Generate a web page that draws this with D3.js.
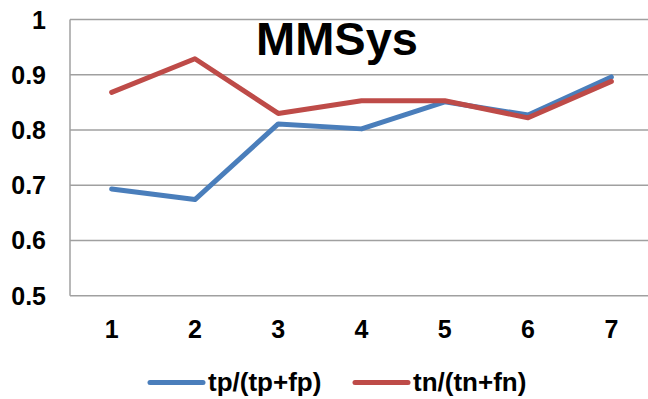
<!DOCTYPE html>
<html><head><meta charset="utf-8">
<script src="https://cdn.jsdelivr.net/npm/d3@7"></script>
<style>body{margin:0;background:#fff}svg{display:block}</style>
</head><body>
<script>
const categories = ["1","2","3","4","5","6","7"];
const seriesNames = ["tp/(tp+fp)", "tn/(tn+fn)"];
const tpValues = [0.693, 0.674, 0.811, 0.802, 0.851, 0.827, 0.896];
const tnValues = [0.868, 0.929, 0.830, 0.853, 0.853, 0.822, 0.888];
const yTicks = [0.5, 0.6, 0.7, 0.8, 0.9, 1];
const colors = ["#4a7ebb", "#be4b48"];
const title = "MMSys";

const W = 648, H = 399;
const svg = d3.select("body").append("svg").attr("width", W).attr("height", H);
const font = "'Liberation Sans', Arial, sans-serif";

const x = d3.scaleBand().domain(categories).range([70, 653]);
const y = d3.scaleLinear().domain([0.5, 1]).range([295.7, 19.5]);

// gridlines
svg.append("g").selectAll("line").data(yTicks).join("line")
  .attr("x1", 70).attr("x2", W).attr("y1", d => y(d)).attr("y2", d => y(d))
  .attr("stroke", "#a0a0a0").attr("stroke-width", 1.5);
// y axis line
svg.append("line").attr("x1", 70).attr("x2", 70).attr("y1", y(1)).attr("y2", y(0.5))
  .attr("stroke", "#a0a0a0").attr("stroke-width", 1.5);

// y labels
svg.append("g").selectAll("text").data(yTicks).join("text")
  .attr("x", 46).attr("y", d => y(d) + 9)
  .attr("text-anchor", "end").attr("font-family", font).attr("font-weight", "bold")
  .attr("font-size", 25).attr("fill", "#000")
  .text(d => d === 1 ? "1" : d3.format(".1f")(d));

// x labels
svg.append("g").selectAll("text").data(categories).join("text")
  .attr("x", d => x(d) + x.bandwidth() / 2).attr("y", 338)
  .attr("text-anchor", "middle").attr("font-family", font).attr("font-weight", "bold")
  .attr("font-size", 25).attr("fill", "#000").text(d => d);

// title
svg.append("text").attr("x", 337).attr("y", 55).attr("text-anchor", "middle")
  .attr("font-family", font).attr("font-weight", "bold").attr("font-size", 47)
  .attr("fill", "#000").text(title);

const line = d3.line().x((d, i) => x(categories[i]) + x.bandwidth() / 2).y(d => y(d));
[tpValues, tnValues].forEach((vals, k) => {
  svg.append("path").datum(vals).attr("d", line).attr("fill", "none")
    .attr("stroke", colors[k]).attr("stroke-width", 5)
    .attr("stroke-linejoin", "round").attr("stroke-linecap", "round");
});

// legend
const legX = [150, 355];
seriesNames.forEach((name, k) => {
  svg.append("line").attr("x1", legX[k]).attr("x2", legX[k] + 53)
    .attr("y1", 382.5).attr("y2", 382.5).attr("stroke", colors[k])
    .attr("stroke-width", 5).attr("stroke-linecap", "round");
  svg.append("text").attr("x", legX[k] + 58).attr("y", 391)
    .attr("font-family", font).attr("font-weight", "bold").attr("font-size", 26)
    .attr("fill", "#000").text(name);
});
</script>
</body></html>
